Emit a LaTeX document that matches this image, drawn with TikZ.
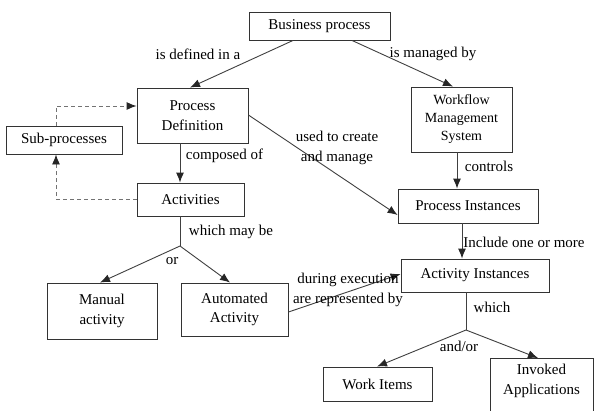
\documentclass[tikz,border=0pt]{standalone}
\usepackage{fontspec}
\setmainfont{Liberation Serif}
\usetikzlibrary{arrows.meta}
\begin{document}
\begin{tikzpicture}[x=1pt,y=-1pt,
  box/.style={draw=black!80, line width=0.9pt, align=center, inner sep=0pt,
    font=\fontsize{15}{19.5}\selectfont, text=black},
  lbl/.style={align=center, inner sep=0pt, font=\fontsize{15}{19.5}\selectfont, text=black},
  conn/.style={draw=black!75, line width=0.9pt},
  arr/.style={conn, -{Latex[length=10pt,width=8pt,color=black!85]}},
  dsh/.style={arr, draw=black!55, dash pattern=on 4pt off 3pt}]
\useasboundingbox (0,0) rectangle (596,410);
\fill[white] (0,0) rectangle (596,410);
% boxes
\node[box, minimum width=141, minimum height=28] (bp) at (319.5,26) {Business process};
\node[box, minimum width=111, minimum height=55] (pd) at (192.5,115.5) {Process\\Definition};
\node[box, minimum width=116, minimum height=28] (sp) at (64,140) {Sub-processes};
\node[box, minimum width=107, minimum height=33] (act) at (190.5,199.5) {Activities};
\node[box, minimum width=101, minimum height=65, font=\fontsize{14}{18}\selectfont] (wms) at (461.5,119.5) {Workflow\\Management\\System};
\node[box, minimum width=140, minimum height=34] (pi) at (468,206) {Process Instances};
\node[box, minimum width=148, minimum height=33] (ai) at (475,275.5) {Activity Instances};
\node[box, minimum width=110, minimum height=56] (ma) at (102,311) {Manual\\activity};
\node[box, minimum width=107, minimum height=53] (aa) at (234.5,309.5) {Automated\\Activity};
\node[box, minimum width=109, minimum height=34] (wi) at (377.5,384) {Work Items};
\node[box, minimum width=103, minimum height=72, anchor=north] (ia) at (541.5,358) {};
\node[lbl, anchor=north] (iat) at (541.5,364) {Invoked\\Applications};
% branch points
\coordinate (b1) at (180,246);
\coordinate (b2) at (466,330);
% connectors
\draw[arr] ([xshift=-26.5]bp.south) -- ([xshift=-2.5]pd.north);
\draw[arr] ([xshift=32.5]bp.south) -- ([xshift=-8.5]wms.north);
\draw[arr] ([xshift=-12.5]pd.south) -- ([xshift=-10.5]act.north);
\draw[dsh] (act.west) -| ([xshift=-8]sp.south);
\draw[dsh] ([xshift=-8]sp.north) |- ([yshift=9.5]pd.west);
\draw[arr] ([yshift=0.5]pd.east) -- ([yshift=-9]pi.west);
\draw[arr] ([xshift=-4.5]wms.south) -- ([xshift=-11]pi.north);
\draw[arr] ([xshift=-6]pi.south) -- ([xshift=-13]ai.north);
\draw[conn] ([xshift=-10.5]act.south) -- (b1);
\draw[arr] (b1) -- ([xshift=-2]ma.north);
\draw[arr] (b1) -- ([xshift=-4.5]aa.north);
\draw[arr] ([yshift=-2.5]aa.east) -- ([yshift=1.5]ai.west);
\draw[conn] ([xshift=-9]ai.south) -- (b2);
\draw[arr] (b2) -- ([xshift=-0.5]wi.north);
\draw[arr] (b2) -- ([xshift=-3.5]ia.north);
% labels
\node[lbl] (l1) at (198,54) {is defined in a};
\node[lbl] (l2) at (433,54) {is managed by};
\node[lbl] (l3) at (224.5,156) {composed of};
\node[lbl] (l4) at (337,148) {used to create\\and manage};
\node[lbl] (l5) at (489,166) {controls};
\node[lbl] (l6) at (231,232) {which may be};
\node[lbl] (l7) at (172,261) {or};
\node[lbl] (l8) at (524,242) {Include one or more};
\node[lbl] (l9) at (348,290) {during execution\\are represented by};
\node[lbl] (l10) at (492,307) {which};
\node[lbl] (l11) at (459,346) {and/or};
\end{tikzpicture}
\end{document}
